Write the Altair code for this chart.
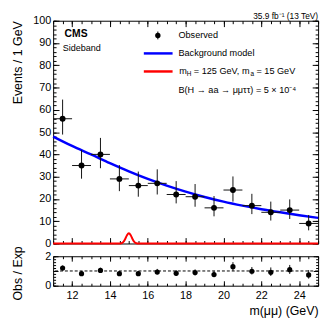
import altair as alt
import pandas as pd

# ---------------- data ----------------
bin_center = [11.5, 12.5, 13.5, 14.5, 15.5, 16.5, 17.5, 18.5, 19.5, 20.5, 21.5, 22.5, 23.5, 24.5]
bin_low = [11, 12, 13, 14, 15, 16, 17, 18, 19, 20, 21, 22, 23, 24]
bin_high = [12, 13, 14, 15, 16, 17, 18, 19, 20, 21, 22, 23, 24, 25]
observed = [56, 35, 40, 29, 26, 27, 22, 21, 16, 24, 17, 14, 15, 9]
obs_err_low = [48.9, 29.1, 33.8, 23.5, 21.0, 22.0, 18.0, 16.5, 12.2, 18.8, 13.2, 10.3, 11.0, 5.9]
obs_err_high = [64.6, 41.9, 47.4, 35.2, 32.3, 33.3, 28.0, 26.7, 21.3, 30.1, 22.3, 18.8, 19.8, 12.8]

bkg_mass = [11, 12, 13, 14, 15, 16, 17, 18, 19, 20, 21, 22, 23, 24, 25]
bkg_events = [48.0, 43.8, 40.0, 36.1, 32.4, 29.0, 26.0, 23.3, 20.9, 18.8, 17.0, 15.4, 14.0, 12.7, 11.5]

sig_mass = [11, 14.5, 14.6, 14.7, 14.8, 14.9, 15.0, 15.1, 15.2, 15.3, 15.4, 15.5, 25]
sig_events = [0, 0, 0.1, 0.6, 1.9, 3.7, 4.6, 3.7, 1.9, 0.6, 0.1, 0, 0]

ratio = [1.2, 0.82, 1.04, 0.82, 0.82, 0.93, 0.84, 0.89, 0.76, 1.29, 0.98, 0.91, 1.09, 0.73]
ratio_low = [1.03, 0.68, 0.88, 0.66, 0.66, 0.75, 0.66, 0.70, 0.57, 1.01, 0.76, 0.66, 0.80, 0.48]
ratio_high = [1.37, 0.98, 1.22, 0.99, 1.00, 1.14, 1.06, 1.11, 1.01, 1.60, 1.27, 1.24, 1.41, 1.06]

x_major = [12, 14, 16, 18, 20, 22, 24]
x_minor = [11, 11.5, 12, 12.5, 13, 13.5, 14, 14.5, 15, 15.5, 16, 16.5, 17, 17.5, 18, 18.5,
           19, 19.5, 20, 20.5, 21, 21.5, 22, 22.5, 23, 23.5, 24, 24.5, 25]
y_major = [0, 10, 20, 30, 40, 50, 60, 70, 80, 90, 100]
y_minor = [0, 2, 4, 6, 8, 10, 12, 14, 16, 18, 20, 22, 24, 26, 28, 30, 32, 34, 36, 38, 40, 42, 44,
           46, 48, 50, 52, 54, 56, 58, 60, 62, 64, 66, 68, 70, 72, 74, 76, 78, 80, 82, 84, 86,
           88, 90, 92, 94, 96, 98, 100]
r_major = [0, 1, 2]
r_minor = [0, 0.2, 0.4, 0.6, 0.8, 1.0, 1.2, 1.4, 1.6, 1.8, 2.0]

# ---------------- tables ----------------
obs_df = pd.DataFrame({
    "mass": bin_center, "lo": bin_low, "hi": bin_high,
    "n": observed, "nlo": obs_err_low, "nhi": obs_err_high,
    "r": ratio, "rlo": ratio_low, "rhi": ratio_high,
})
bkg_df = pd.DataFrame({"mass": bkg_mass, "events": bkg_events})
sig_df = pd.DataFrame({"mass": sig_mass, "events": sig_events})
dummy = pd.DataFrame({"one": [1]})

W, H, RH = 270, 227, 30
FONT = "Liberation Sans"

xs = alt.Scale(domain=[11, 25], nice=False, zero=False)
ys = alt.Scale(domain=[0, 100], nice=False, zero=False)
rs = alt.Scale(domain=[0, 2], nice=False, zero=False)


def tick_axis(orient, offset, values, size):
    return alt.Axis(orient=orient, offset=offset, values=values, tickSize=size,
                    tickColor="black", tickWidth=1, labels=False, domain=False,
                    grid=False, title=None)


def carrier(ycol, yscale, xaxis, yaxis):
    return alt.Chart(obs_df).mark_point(opacity=0).encode(
        x=alt.X("mass:Q", scale=xs, axis=xaxis),
        y=alt.Y(f"{ycol}:Q", scale=yscale, axis=yaxis),
    )


def label(text, x, y, size=9.3, align="left", weight="normal", baseline="middle"):
    return alt.Chart(dummy).mark_text(
        text=text, align=align, baseline=baseline, fontSize=size,
        fontWeight=weight, color="black", font=FONT,
    ).encode(x=alt.value(x), y=alt.value(y))


# ---------------- main panel ----------------
y_label_axis = alt.Axis(
    orient="left", values=y_major, ticks=False, domain=False, grid=False,
    labelFontSize=11, labelPadding=2.5, labelColor="black", labelOverlap=False,
    title="Events / 1 GeV", titleFontSize=12.6, titleFontWeight="normal",
    titleColor="black", titleAngle=270, titleAlign="right", titleBaseline="middle",
    titleX=-36, titleY=0,
)

sig = alt.Chart(sig_df).mark_line(color="#ff0000", strokeWidth=2, interpolate="monotone").encode(
    x=alt.X("mass:Q", scale=xs, axis=None), y=alt.Y("events:Q", scale=ys, axis=None))
bkg = alt.Chart(bkg_df).mark_line(color="#0000ff", strokeWidth=2.5, interpolate="monotone").encode(
    x=alt.X("mass:Q", scale=xs, axis=None), y=alt.Y("events:Q", scale=ys, axis=None))
vbar = alt.Chart(obs_df).mark_rule(color="#111111", strokeWidth=1).encode(
    x=alt.X("mass:Q", scale=xs, axis=None), y=alt.Y("nlo:Q", scale=ys, axis=None), y2="nhi:Q")
hbar = alt.Chart(obs_df).mark_rule(color="#111111", strokeWidth=1).encode(
    x=alt.X("lo:Q", scale=xs, axis=None), x2="hi:Q", y=alt.Y("n:Q", scale=ys, axis=None))
pts = alt.Chart(obs_df).mark_circle(size=36, color="black", opacity=1).encode(
    x=alt.X("mass:Q", scale=xs, axis=None), y=alt.Y("n:Q", scale=ys, axis=None))

main_carriers = [
    carrier("n", ys, tick_axis("top", -H, x_major, 6), y_label_axis),
    carrier("n", ys, tick_axis("top", -H, x_minor, 3), tick_axis("right", -W, y_major, 6)),
    carrier("n", ys, tick_axis("bottom", -H, x_major, 6), tick_axis("right", -W, y_minor, 3)),
    carrier("n", ys, tick_axis("bottom", -H, x_minor, 3), tick_axis("left", -W, y_major, 6)),
    carrier("n", ys, None, tick_axis("left", -W, y_minor, 3)),
]

leg_dot = alt.Chart(dummy).mark_circle(size=30, color="black", opacity=1).encode(
    x=alt.value(106.7), y=alt.value(15))
leg_bar = alt.Chart(dummy).mark_rule(color="black", strokeWidth=1).encode(
    x=alt.value(106.7), y=alt.value(11), y2=alt.value(19))
leg_blue = alt.Chart(dummy).mark_rule(color="#0000ff", strokeWidth=2.5).encode(
    x=alt.value(92.4), x2=alt.value(121.7), y=alt.value(33.3))
leg_red = alt.Chart(dummy).mark_rule(color="#ff0000", strokeWidth=2.5).encode(
    x=alt.value(92.4), x2=alt.value(121.7), y=alt.value(51.7))

texts = [
    label("35.9 fb\u207b\u00b9 (13 TeV)", W, -2, size=8.5, align="right", baseline="alphabetic"),
    label("CMS", 11.7, 14, size=10.5, weight="bold"),
    label("Sideband", 9.7, 28, size=9.2),
    label("Observed", 127.7, 15),
    label("Background model", 127.7, 33.3),
    label("m", 128.4, 51.3),
    label("H", 136.1, 54.5, size=6.5),
    label("= 125 GeV, m", 143.4, 51.3),
    label("a", 201.0, 54.5, size=6.5),
    label("= 15 GeV", 207.2, 51.3),
    label("B(H \u2192 aa \u2192 \u03bc\u03bc\u03c4\u03c4) = 5 \u00d7 10\u207b\u2074", 127.7, 70.5),
]

main = alt.layer(
    sig, bkg, vbar, hbar, pts, *main_carriers, leg_bar, leg_dot, leg_blue, leg_red, *texts
).resolve_axis(x="independent", y="independent").properties(width=W, height=H)

# ---------------- ratio panel ----------------
x_label_axis = alt.Axis(
    orient="bottom", values=x_major, ticks=False, domain=False, grid=False,
    labelFontSize=11, labelPadding=4, labelColor="black", labelOverlap=False,
    title="m(\u03bc\u03bc) (GeV)", titleFontSize=12.6, titleFontWeight="normal",
    titleColor="black", titleAnchor="end", titlePadding=4,
)
r_label_axis = alt.Axis(
    orient="left", values=r_major, format="d", ticks=False, domain=False, grid=False,
    labelFontSize=11, labelPadding=2.5, labelColor="black", labelOverlap=False,
    title="Obs / Exp", titleFontSize=12.6, titleFontWeight="normal",
    titleColor="black", titleAngle=270, titleAlign="center", titleBaseline="middle",
    titleX=-36, titleY=17,
)

one_line = alt.Chart(dummy).mark_rule(color="black", strokeWidth=1, strokeDash=[3, 2]).encode(
    y=alt.Y("one:Q", scale=rs, axis=None))
r_bar = alt.Chart(obs_df).mark_rule(color="#111111", strokeWidth=1).encode(
    x=alt.X("mass:Q", scale=xs, axis=None), y=alt.Y("rlo:Q", scale=rs, axis=None), y2="rhi:Q")
r_pts = alt.Chart(obs_df).mark_circle(size=28, color="black", opacity=1).encode(
    x=alt.X("mass:Q", scale=xs, axis=None), y=alt.Y("r:Q", scale=rs, axis=None))

ratio_carriers = [
    carrier("r", rs, x_label_axis, r_label_axis),
    carrier("r", rs, tick_axis("top", -RH, x_major, 5), tick_axis("right", -W, r_major, 5)),
    carrier("r", rs, tick_axis("top", -RH, x_minor, 2.5), tick_axis("right", -W, r_minor, 2.5)),
    carrier("r", rs, tick_axis("bottom", -RH, x_major, 5), tick_axis("left", -W, r_major, 5)),
    carrier("r", rs, tick_axis("bottom", -RH, x_minor, 2.5), tick_axis("left", -W, r_minor, 2.5)),
]

ratio_panel = alt.layer(
    one_line, r_bar, r_pts, *ratio_carriers
).resolve_axis(x="independent", y="independent").properties(width=W, height=RH)

chart = alt.vconcat(main, ratio_panel, spacing=13, bounds="flush").properties(
    padding={"left": 3, "top": 0, "right": 0, "bottom": 0}
).configure(font=FONT).configure_view(stroke="black", strokeWidth=1)

chart.save("out.html", embed_options={"renderer": "svg", "actions": False})
